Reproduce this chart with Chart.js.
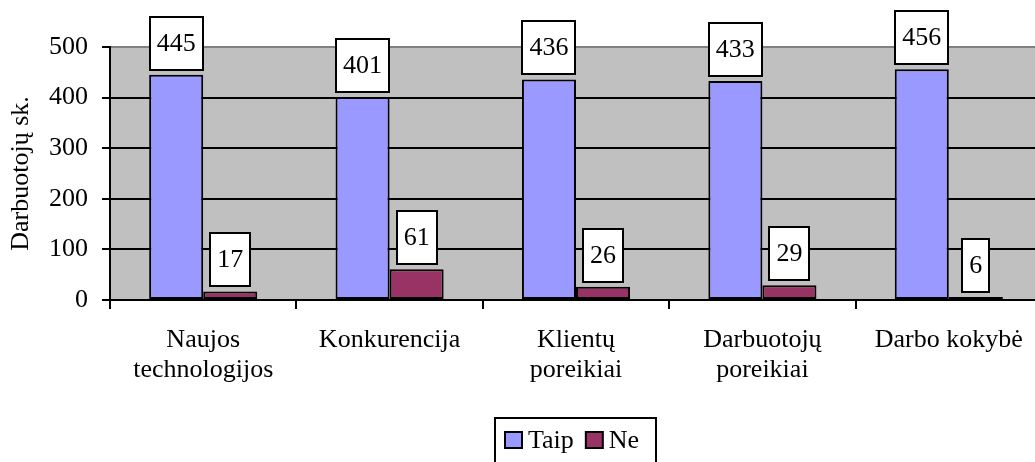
<!DOCTYPE html>
<html>
<head>
<meta charset="utf-8">
<style>
  html, body { margin: 0; padding: 0; background: #fff; overflow: hidden; }
  #wrap { width: 1035px; height: 462px; overflow: hidden; }
</style>
</head>
<body>
<div id="wrap"><canvas id="myChart" width="1050" height="462"></canvas></div>
<script src="https://cdn.jsdelivr.net/npm/chart.js@4"></script>
<script>
// Survey answers: reasons for change, count of employees
const categories = [['Naujos', 'technologijos'], 'Konkurencija', ['Klientų', 'poreikiai'], ['Darbuotojų', 'poreikiai'], 'Darbo kokybė'];
const taipValues = [445, 401, 436, 433, 456];
const neValues = [17, 61, 26, 29, 6];
const yTicks = [0, 100, 200, 300, 400, 500];
const axisTitle = 'Darbuotojų sk.';

const FONT = '"Liberation Serif", "Times New Roman", serif';

document.addEventListener('DOMContentLoaded', function() {
    const ctx = document.getElementById('myChart').getContext('2d');

    // Gray plot background
    const plotBackground = {
        id: 'plotBackground',
        beforeDraw(chart) {
            const a = chart.chartArea;
            const c = chart.ctx;
            c.save();
            c.fillStyle = '#c0c0c0';
            c.fillRect(a.left, a.top, a.right - a.left, a.bottom - a.top);
            c.restore();
        }
    };

    // Value boxes over each bar
    const valueBoxes = {
        id: 'valueBoxes',
        afterDatasetsDraw(chart) {
            const c = chart.ctx;
            c.save();
            c.font = '26px ' + FONT;
            c.textAlign = 'center';
            c.textBaseline = 'middle';
            chart.data.datasets.forEach((ds, i) => {
                chart.getDatasetMeta(i).data.forEach((bar, j) => {
                    const text = String(ds.data[j]);
                    const w = Math.round(c.measureText(text).width + 14);
                    const h = 53;
                    const x = Math.round(bar.x - w / 2);
                    const y = Math.round(bar.y - 5 - h);
                    c.fillStyle = '#fff';
                    c.fillRect(x, y, w, h);
                    c.lineWidth = 2;
                    c.strokeStyle = '#000';
                    c.strokeRect(x, y, w, h);
                    c.fillStyle = '#000';
                    c.fillText(text, bar.x, y + h / 2 + 1);
                });
            });
            c.restore();
        }
    };

    // Boxed legend under the axis labels
    const boxedLegend = {
        id: 'boxedLegend',
        afterDraw(chart) {
            const c = chart.ctx;
            const a = chart.chartArea;
            c.save();
            c.font = '26px ' + FONT;
            c.textBaseline = 'middle';
            const sw = 17, gap = 6, itemGap = 12, padL = 10, padR = 17;
            const items = chart.data.datasets.map(ds => ({
                label: ds.label, color: ds.backgroundColor, w: c.measureText(ds.label).width
            }));
            let total = padL + padR;
            items.forEach((it, i) => { total += sw + gap + it.w + (i ? itemGap : 0); });
            const boxTop = 418, boxH = 60;
            let x = Math.round((a.left + a.right) / 2 - total / 2);
            c.lineWidth = 2;
            c.strokeStyle = '#000';
            c.strokeRect(x, boxTop, Math.round(total), boxH);
            x += padL;
            const midY = 440;
            items.forEach((it, i) => {
                if (i) x += itemGap;
                c.fillStyle = it.color;
                c.fillRect(x, midY - 8, sw, sw - 1);
                c.strokeRect(x, midY - 8, sw, sw - 1);
                x += sw + gap;
                c.fillStyle = '#000';
                c.fillText(it.label, x, midY + 1);
                x += it.w;
            });
            c.restore();
        }
    };

    new Chart(ctx, {
        type: 'bar',
        data: {
            labels: categories,
            datasets: [
                {
                    label: 'Taip',
                    data: taipValues,
                    backgroundColor: '#9999ff',
                    borderColor: '#000',
                    borderWidth: 2,
                    borderSkipped: false
                },
                {
                    label: 'Ne',
                    data: neValues,
                    backgroundColor: '#993366',
                    borderColor: '#000',
                    borderWidth: 2,
                    borderSkipped: false
                }
            ]
        },
        options: {
            responsive: false,
            animation: false,
            devicePixelRatio: 1,
            layout: { padding: { top: 47, right: 8, bottom: 0, left: 0 } },
            categoryPercentage: 0.58,
            barPercentage: 1.0,
            plugins: {
                legend: { display: false },
                tooltip: { enabled: false }
            },
            scales: {
                x: {
                    grid: {
                        offset: true,
                        drawOnChartArea: false,
                        color: '#000',
                        lineWidth: 2,
                        tickLength: 9
                    },
                    border: { color: '#000', width: 2 },
                    ticks: {
                        color: '#000',
                        padding: 16,
                        maxRotation: 0,
                        autoSkip: false,
                        font: { family: FONT, size: 26, lineHeight: 1.17 }
                    },
                    afterFit(scale) { scale.height = 162; }
                },
                y: {
                    min: 0,
                    max: 500,
                    afterBuildTicks(scale) { scale.ticks = yTicks.map(v => ({ value: v })); },
                    grid: {
                        color: c => (c.tick && c.tick.value === 500 ? '#808080' : '#000'),
                        lineWidth: 2,
                        tickLength: 8,
                        tickColor: '#000'
                    },
                    border: { color: '#000', width: 2 },
                    ticks: {
                        color: '#000',
                        padding: 14,
                        font: { family: FONT, size: 26 }
                    },
                    title: {
                        display: true,
                        text: axisTitle,
                        color: '#000',
                        padding: { top: 6, bottom: 0 },
                        font: { family: FONT, size: 26, lineHeight: 1.2 }
                    },
                    afterFit(scale) { scale.width = 110; }
                }
            }
        },
        plugins: [plotBackground, valueBoxes, boxedLegend]
    });
});
</script>
</body>
</html>
